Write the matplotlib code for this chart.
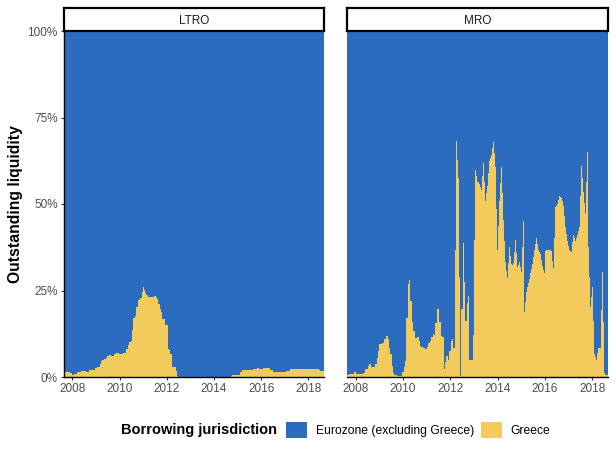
import matplotlib
matplotlib.use("Agg")
import matplotlib.pyplot as plt
from matplotlib.patches import Patch
from matplotlib.ticker import FuncFormatter

plt.rcParams["font.family"] = ["Liberation Sans", "DejaVu Sans"]

# Share of outstanding liquidity borrowed by Greece (%), step data.
# Each value holds from its start date (decimal year) until the next start.
x_end = 2018.66

ltro_start = [2007.64, 2007.90, 2007.96, 2008.07, 2008.19, 2008.36, 2008.58, 2008.72,
              2008.95, 2009.03, 2009.15, 2009.20, 2009.26, 2009.32, 2009.40, 2009.46,
              2009.54, 2009.63, 2009.77, 2009.86, 2009.97, 2010.14, 2010.28, 2010.34,
              2010.39, 2010.46, 2010.54, 2010.58, 2010.65, 2010.70, 2010.76, 2010.79,
              2010.87, 2010.93, 2010.99, 2011.03, 2011.07, 2011.13, 2011.21, 2011.44,
              2011.53, 2011.58, 2011.64, 2011.70, 2011.75, 2011.81, 2011.92, 2012.04,
              2012.09, 2012.15, 2012.23, 2012.38, 2012.43, 2012.49, 2014.70, 2014.75,
              2015.12, 2015.18, 2015.66, 2015.83, 2015.91, 2016.08, 2016.39, 2016.48,
              2017.07, 2017.22, 2018.43, 2018.49]
ltro_greece = [1.35, 1.06, 0.67, 0.96, 1.45, 1.83, 1.54, 2.1,
               2.5, 2.8, 3.76, 4.5, 4.9, 5.1, 5.6, 6.1,
               6.4, 6.2, 6.6, 7.0, 6.7, 7.0, 8.1, 9.3,
               10.0, 10.5, 13.6, 17.0, 17.7, 20.3, 22.8, 22.3,
               22.8, 24.5, 26.1, 25.1, 24.2, 23.8, 23.0, 23.5,
               23.2, 22.5, 21.1, 19.7, 18.7, 16.8, 15.1, 8.1,
               7.8, 6.6, 3.0, 1.6, 0.4, 0.0, 0.4, 0.7,
               1.4, 2.0, 2.4, 2.6, 2.3, 2.6, 2.0, 1.4,
               1.7, 2.3, 2.0, 1.7]

mro_start = [2007.64, 2007.73, 2007.92, 2008.04, 2008.33, 2008.40, 2008.51, 2008.58,
             2008.65, 2008.83, 2008.89, 2008.94, 2009.00, 2009.10, 2009.21, 2009.27,
             2009.35, 2009.41, 2009.46, 2009.52, 2009.58, 2009.63, 2009.75, 2009.97,
             2010.03, 2010.08, 2010.14, 2010.20, 2010.25, 2010.32, 2010.38, 2010.43,
             2010.49, 2010.60, 2010.66, 2010.72, 2010.77, 2010.83, 2010.94, 2011.00,
             2011.05, 2011.14, 2011.19, 2011.25, 2011.31, 2011.36, 2011.42, 2011.53,
             2011.59, 2011.67, 2011.73, 2011.75, 2011.78, 2011.84, 2011.90, 2011.95,
             2012.01, 2012.07, 2012.12, 2012.18, 2012.21, 2012.26, 2012.30, 2012.34,
             2012.38, 2012.43, 2012.47, 2012.52, 2012.57, 2012.63, 2012.69, 2012.73,
             2012.77, 2012.80, 2012.94, 2012.99, 2013.02, 2013.05, 2013.09, 2013.14,
             2013.22, 2013.26, 2013.30, 2013.35, 2013.39, 2013.43, 2013.47, 2013.52,
             2013.56, 2013.60, 2013.64, 2013.68, 2013.73, 2013.77, 2013.81, 2013.85,
             2013.89, 2013.94, 2013.98, 2014.02, 2014.06, 2014.11, 2014.15, 2014.19,
             2014.23, 2014.27, 2014.32, 2014.36, 2014.40, 2014.44, 2014.49, 2014.53,
             2014.57, 2014.61, 2014.65, 2014.70, 2014.74, 2014.78, 2014.82, 2014.87,
             2014.91, 2014.95, 2014.99, 2015.03, 2015.08, 2015.12, 2015.16, 2015.20,
             2015.24, 2015.29, 2015.33, 2015.37, 2015.41, 2015.46, 2015.50, 2015.54,
             2015.58, 2015.62, 2015.67, 2015.71, 2015.75, 2015.79, 2015.84, 2015.88,
             2015.92, 2015.96, 2016.00, 2016.05, 2016.17, 2016.26, 2016.30, 2016.34,
             2016.38, 2016.43, 2016.47, 2016.51, 2016.55, 2016.59, 2016.64, 2016.68,
             2016.72, 2016.76, 2016.81, 2016.85, 2016.89, 2016.93, 2016.97, 2017.02,
             2017.06, 2017.10, 2017.14, 2017.19, 2017.23, 2017.27, 2017.31, 2017.35,
             2017.40, 2017.44, 2017.48, 2017.52, 2017.57, 2017.61, 2017.65, 2017.69,
             2017.73, 2017.78, 2017.82, 2017.86, 2017.90, 2017.95, 2017.99, 2018.03,
             2018.07, 2018.11, 2018.16, 2018.20, 2018.24, 2018.37, 2018.41, 2018.45,
             2018.49, 2018.54]
mro_greece = [0.6, 0.9, 1.4, 0.9, 1.25, 2.2, 3.2, 3.7,
              3.0, 3.7, 5.6, 7.5, 9.6, 9.9, 11.1, 11.8,
              11.1, 8.5, 6.6, 3.2, 1.1, 0.6, 0.3, 1.4,
              2.9, 4.6, 17.0, 26.8, 28.0, 22.1, 16.0, 13.4,
              11.2, 11.7, 10.5, 9.1, 8.6, 8.4, 8.1, 8.8,
              9.8, 10.3, 11.5, 12.4, 12.1, 15.6, 19.7, 16.0,
              11.9, 11.5, 6.9, 2.4, 4.4, 6.0, 4.9, 7.6,
              10.5, 11.0, 8.3, 5.2, 36.8, 68.3, 62.8, 57.4,
              28.8, 0.4, 19.7, 38.7, 27.6, 16.3, 21.4, 23.5,
              14.4, 5.0, 12.2, 19.5, 39.7, 59.9, 58.0, 56.3,
              55.8, 54.8, 54.0, 58.0, 61.8, 56.3, 50.8, 53.1,
              55.3, 58.9, 62.5, 63.3, 64.3, 66.2, 68.0, 64.6,
              60.8, 48.6, 36.7, 43.7, 51.0, 56.0, 60.8, 53.3,
              45.5, 39.4, 33.1, 30.7, 28.5, 33.0, 37.7, 35.1,
              32.7, 32.4, 32.9, 36.2, 39.7, 35.7, 31.7, 32.4,
              33.3, 31.7, 30.3, 37.7, 45.0, 18.7, 21.6, 24.5,
              25.9, 27.2, 28.3, 30.0, 31.2, 32.7, 34.8, 36.7,
              38.4, 40.2, 38.4, 36.7, 36.0, 35.5, 33.8, 32.2,
              30.9, 30.0, 36.5, 36.7, 36.8, 36.3, 33.6, 31.4,
              40.2, 49.0, 49.5, 50.0, 51.2, 52.4, 52.1, 51.7,
              50.8, 49.5, 46.6, 43.4, 41.3, 39.2, 38.0, 36.8,
              36.5, 36.2, 38.9, 41.1, 40.2, 39.2, 40.2, 41.1,
              42.3, 43.4, 52.4, 61.1, 57.4, 53.4, 50.2, 47.3,
              56.3, 64.9, 37.5, 28.8, 20.1, 23.0, 25.9, 16.3,
              6.6, 5.7, 5.0, 6.8, 8.4, 19.5, 30.4, 15.8,
              1.1, 0.7]

panels = ["LTRO", "MRO"]
series = [(ltro_start, ltro_greece), (mro_start, mro_greece)]
year_ticks = [2008, 2010, 2012, 2014, 2016, 2018]
pct_ticks = [0, 25, 50, 75, 100]

blue = "#2b6cbf"
yellow = "#f2cb5c"
grey_text = "#4d4d4d"

fig = plt.figure(figsize=(6.16, 4.55), dpi=100)
W, H = 616, 455
lefts = [64, 347]
widths = [260, 261]
top, bottom = 31, 377

for i, (name, (t, v)) in enumerate(zip(panels, series)):
    ax = fig.add_axes([lefts[i] / W, (H - bottom) / H, widths[i] / W, (bottom - top) / H])
    edges = list(t) + [x_end]
    ax.stairs([100] * len(v), edges, baseline=v, fill=True, color=blue, linewidth=0)
    ax.stairs(v, edges, baseline=0, fill=True, color=yellow, linewidth=0)
    ax.set_xlim(ltro_start[0], x_end)
    ax.set_ylim(0, 100)
    ax.set_xticks(year_ticks)
    ax.set_yticks(pct_ticks)
    ax.yaxis.set_major_formatter(FuncFormatter(lambda y, _: f"{y:.0f}%"))
    for s in ["top", "right"]:
        ax.spines[s].set_visible(False)
    for s in ["left", "bottom"]:
        ax.spines[s].set_linewidth(1.0)
        ax.spines[s].set_color("black")
    ax.tick_params(length=2.5, width=0.8, color="#333333", labelsize=8.5,
                   labelcolor=grey_text, pad=2)
    if i == 0:
        ax.set_ylabel("Outstanding liquidity", fontsize=11.3, fontweight="bold", labelpad=3)
    else:
        ax.tick_params(axis="y", left=False, labelleft=False)
        ax.spines["left"].set_visible(False)

    # facet strip
    sax = fig.add_axes([lefts[i] / W, (H - top) / H, widths[i] / W, 23 / H])
    sax.set_xticks([])
    sax.set_yticks([])
    for s in sax.spines.values():
        s.set_linewidth(1.6)
        s.set_color("black")
    sax.text(0.5, 0.45, name, ha="center", va="center", fontsize=8.5, color="#1a1a1a")

fig.text(121 / W, 1 - 430 / H, "Borrowing jurisdiction", fontsize=10.5,
         fontweight="bold", ha="left", va="center")
handles = [Patch(facecolor=blue, edgecolor="none"), Patch(facecolor=yellow, edgecolor="none")]
fig.legend(handles, ["Eurozone (excluding Greece)", "Greece"], ncol=2, frameon=False,
           loc="center left", bbox_to_anchor=(286 / W, 1 - 430 / H),
           fontsize=8.7, handlelength=1.75, handleheight=1.75, handletextpad=0.7,
           columnspacing=0.6, borderpad=0, borderaxespad=0)

fig.savefig("out.png", dpi=100)
